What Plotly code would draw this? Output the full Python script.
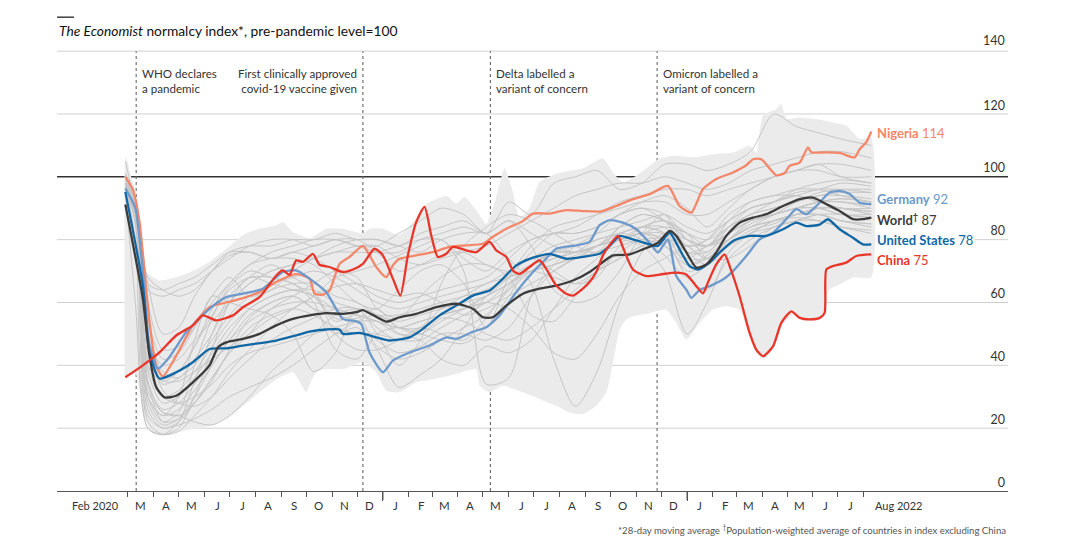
import plotly.graph_objects as go
import pandas as pd

# ---------------- data ----------------
CHINA_D = ["2020-02-27","2020-03-19","2020-04-08","2020-04-28","2020-05-18","2020-05-30","2020-06-15","2020-07-05","2020-07-17","2020-08-06","2020-08-26","2020-09-03","2020-09-11","2020-09-19","2020-09-27","2020-10-09","2020-10-17","2020-10-29","2020-11-14","2020-11-26","2020-12-08","2020-12-22","2021-01-01","2021-01-13","2021-01-22","2021-01-31","2021-02-10","2021-02-20","2021-02-28","2021-03-08","2021-03-18","2021-03-26","2021-04-11","2021-04-23","2021-05-09","2021-05-17","2021-05-29","2021-06-06","2021-06-14","2021-06-26","2021-07-08","2021-07-16","2021-07-28","2021-08-09","2021-08-17","2021-08-29","2021-09-06","2021-09-14","2021-09-22","2021-09-30","2021-10-10","2021-10-16","2021-10-28","2021-11-13","2021-11-29","2021-12-19","2021-12-31","2022-01-12","2022-01-20","2022-01-26","2022-02-05","2022-02-15","2022-02-21","2022-03-05","2022-03-17","2022-03-25","2022-04-02","2022-04-14","2022-04-24","2022-05-06","2022-05-16","2022-05-28","2022-06-09","2022-06-15","2022-06-17","2022-06-25","2022-07-11","2022-07-23","2022-08-10"]
CHINA_V = [36.2,40,44.1,49.5,52.7,55.9,54.3,55.9,58.5,61.7,68.6,70.2,68.8,73.4,72.9,75.5,72,71.3,69.7,70.5,72.3,77.1,75,67.6,62.2,75,85.6,90.4,81.4,74.5,75.5,77.7,76.6,76,79.3,76.6,74.5,70.2,69.1,71.3,73.4,70.7,65.4,62.8,62.2,64.4,66.5,69.7,75,78.3,81.2,77.5,70.5,68.4,68.9,69.5,68.9,65.2,62.9,66.4,72.1,75.3,71.6,62,50.3,45,42.9,46,53.5,57.2,55.1,54.6,55.1,56.7,70.5,71.6,72.7,74.8,75.3]

NIGERIA_D = ["2020-02-27","2020-03-07","2020-03-15","2020-03-27","2020-04-04","2020-04-12","2020-04-28","2020-05-18","2020-06-07","2020-06-27","2020-07-17","2020-08-06","2020-08-26","2020-09-19","2020-10-05","2020-10-11","2020-10-21","2020-10-29","2020-11-10","2020-11-22","2020-12-08","2020-12-16","2020-12-24","2021-01-05","2021-01-13","2021-01-21","2021-02-10","2021-03-02","2021-03-22","2021-04-11","2021-05-01","2021-05-13","2021-05-29","2021-06-18","2021-06-30","2021-07-20","2021-08-09","2021-08-29","2021-09-20","2021-10-08","2021-10-28","2021-11-17","2021-12-09","2021-12-23","2022-01-06","2022-01-20","2022-02-05","2022-02-25","2022-03-13","2022-03-21","2022-03-31","2022-04-18","2022-04-28","2022-05-04","2022-05-16","2022-05-26","2022-05-30","2022-06-17","2022-07-03","2022-07-21","2022-07-27","2022-08-04","2022-08-10"]
NIGERIA_V = [100,96,85.6,53.7,40,36.5,43,52.7,58.5,60,61.4,63.3,66.5,69,67.6,62.8,62.5,63.8,72.3,74.5,78,75,71.3,68.1,71.8,73.9,75,76,77.7,78.2,78.7,80.9,83.5,85.9,88.3,88.3,89.4,89.1,89,90.7,92.9,94.5,97.1,90.7,88.6,96.1,99.3,101.4,103.7,105.6,105.6,100.5,101.2,103.5,104.5,109.4,107.8,107.8,107.6,106.2,108.8,111,114.4]

GERMANY_D = ["2020-02-27","2020-03-10","2020-03-19","2020-03-27","2020-04-06","2020-04-18","2020-05-10","2020-06-07","2020-06-27","2020-07-17","2020-08-10","2020-09-03","2020-09-19","2020-10-05","2020-10-25","2020-11-14","2020-11-30","2020-12-06","2020-12-16","2021-01-01","2021-01-13","2021-02-02","2021-02-26","2021-03-18","2021-03-30","2021-04-19","2021-05-05","2021-05-21","2021-06-10","2021-06-30","2021-07-12","2021-07-28","2021-08-21","2021-09-06","2021-09-18","2021-09-30","2021-10-16","2021-11-01","2021-11-17","2021-11-27","2021-12-09","2021-12-19","2021-12-31","2022-01-06","2022-01-16","2022-01-28","2022-02-13","2022-02-25","2022-03-13","2022-03-29","2022-04-14","2022-04-30","2022-05-12","2022-05-24","2022-06-05","2022-06-21","2022-07-03","2022-07-15","2022-07-27","2022-08-10"]
GERMANY_V = [96.3,90,69.7,46.3,39,42,50.5,58,61.7,62.8,64.4,69.7,70.2,67.6,63.3,54.8,54,53.2,44.1,37.8,41.5,44.1,46.3,48.9,48.4,50.7,52.1,55.9,63.3,69.7,72.9,77.1,78.2,79.3,84.6,86.2,85.4,83.3,79,75.9,80.1,68.4,64.1,61.5,64,65.2,67.3,70,74.8,80.1,82.2,86.5,89.7,88.1,90.7,95,95.5,94.5,91.8,91.3]

US_D = ["2020-02-27","2020-03-19","2020-03-27","2020-04-08","2020-04-28","2020-05-18","2020-06-07","2020-06-27","2020-07-17","2020-08-26","2020-09-19","2020-10-05","2020-10-25","2020-11-10","2020-11-14","2020-12-04","2020-12-24","2021-01-09","2021-02-02","2021-02-18","2021-03-10","2021-03-30","2021-04-19","2021-05-09","2021-05-25","2021-06-10","2021-06-26","2021-07-20","2021-08-09","2021-08-29","2021-09-18","2021-09-30","2021-10-12","2021-10-28","2021-11-17","2021-11-27","2021-12-11","2021-12-23","2022-01-04","2022-01-14","2022-01-28","2022-02-09","2022-02-25","2022-03-17","2022-04-06","2022-04-26","2022-05-12","2022-05-24","2022-06-09","2022-06-19","2022-07-03","2022-07-19","2022-07-31","2022-08-10"]
US_V = [95.2,65.4,44,35.8,37.8,41,45.2,45.4,46.3,47.9,49.5,50.7,51.4,51.4,50,50.3,48.9,47.9,48.9,51.6,55.9,59,62.2,63.8,67.6,71.8,73.9,75.5,73.9,74.5,75.5,78,81.2,80.1,78.5,78,82.2,76.9,71.6,70.5,72.7,75.9,79.6,81.2,81.2,83.3,85.4,84.3,84.8,86.5,83.3,80.6,78.5,78.5]

WORLD_D = ["2020-02-27","2020-03-19","2020-03-27","2020-04-04","2020-04-14","2020-04-28","2020-05-18","2020-06-07","2020-06-17","2020-06-27","2020-07-17","2020-08-06","2020-08-26","2020-09-15","2020-10-05","2020-10-25","2020-11-14","2020-11-30","2020-12-08","2021-01-05","2021-01-21","2021-02-10","2021-03-06","2021-03-30","2021-04-19","2021-05-01","2021-05-13","2021-05-29","2021-06-18","2021-07-08","2021-07-28","2021-08-17","2021-09-06","2021-09-22","2021-10-04","2021-10-24","2021-11-09","2021-11-27","2021-12-11","2021-12-19","2021-12-31","2022-01-12","2022-01-24","2022-02-05","2022-02-17","2022-03-05","2022-03-21","2022-04-06","2022-04-26","2022-05-16","2022-06-01","2022-06-17","2022-07-03","2022-07-19","2022-07-31","2022-08-10"]
WORLD_V = [91.2,61.2,43,33,29.8,30.3,34.6,40,45.7,47.3,48.4,50,52.7,54.8,55.9,56.6,56.4,56.9,57.6,53.9,55.3,56.4,58.5,59.6,58,55.3,55.3,59,62.8,64.4,65.4,67,69.7,72.9,75,75.3,76.9,79,82.8,81.2,76,71.1,72.1,75.9,81.2,85.4,87,88.1,90.7,92.9,93.4,91.3,89.1,86.5,86.5,87]

BAND_UP_D = ["2020-02-26","2020-02-28","2020-03-04","2020-03-10","2020-03-17","2020-03-22","2020-04-08","2020-04-28","2020-05-18","2020-06-07","2020-06-27","2020-07-17","2020-08-06","2020-08-26","2020-09-03","2020-09-15","2020-10-05","2020-10-25","2020-11-14","2020-12-08","2020-12-16","2021-01-01","2021-01-21","2021-02-10","2021-02-20","2021-03-18","2021-03-30","2021-04-09","2021-04-23","2021-05-05","2021-05-17","2021-05-27","2021-06-06","2021-06-14","2021-06-26","2021-07-08","2021-07-28","2021-08-29","2021-09-22","2021-10-04","2021-10-16","2021-11-01","2021-11-17","2021-11-27","2021-12-15","2022-01-08","2022-02-01","2022-02-25","2022-03-17","2022-03-25","2022-04-02","2022-04-18","2022-04-24","2022-04-30","2022-05-16","2022-06-05","2022-06-25","2022-07-11","2022-07-27","2022-08-10"]
BAND_UP_V = [100,106.4,101,95,80,70,67,68,70,73,77,81.4,83.5,84.6,85.6,82.4,80.5,83.5,83.5,82,83.5,83.5,81.5,86.7,91,94,91.5,93.6,89.4,85,93.6,102.7,95.2,87,90,98.4,101,102.7,105.9,101.4,98.2,100.3,103.5,105.6,106.7,106.2,107.2,107.7,109.9,107.7,119.5,121.6,123.2,118.4,118.9,118.4,117.3,116.3,112,112.5]

BAND_LO_D = ["2020-02-26","2020-03-01","2020-03-10","2020-03-20","2020-03-30","2020-04-12","2020-04-28","2020-05-18","2020-06-07","2020-06-27","2020-07-17","2020-08-06","2020-08-26","2020-09-15","2020-09-25","2020-10-01","2020-10-07","2020-10-13","2020-10-25","2020-11-14","2020-12-08","2020-12-24","2021-01-05","2021-01-21","2021-02-10","2021-03-02","2021-03-22","2021-04-11","2021-04-23","2021-04-27","2021-05-09","2021-05-25","2021-06-18","2021-07-08","2021-07-28","2021-08-13","2021-08-29","2021-09-14","2021-09-26","2021-10-04","2021-10-12","2021-10-20","2021-10-28","2021-11-17","2021-12-07","2021-12-19","2021-12-31","2022-01-16","2022-02-01","2022-02-17","2022-03-05","2022-03-17","2022-03-25","2022-04-02","2022-04-14","2022-04-26","2022-05-08","2022-05-24","2022-06-09","2022-06-15","2022-06-20","2022-07-05","2022-07-20","2022-08-10"]
BAND_LO_V = [36,36.5,37.5,25,18.6,17.6,18.6,19.7,20.7,22.9,27,31.4,35.6,37.8,34,31.4,35,37.8,38.8,38.8,41,37.8,31.9,31.4,34.6,35.6,36.7,38.3,38.8,33.5,31.4,33.5,31.4,29.3,27.1,25,24.5,27.1,31.4,40.7,51.4,54.6,55.6,56.6,57.7,53.5,48.2,53.5,57.7,58.8,57.7,49.3,43.9,42,45,53,56,54,54.5,55.5,64,66,68,68]

# other countries (thin grey lines), sampled on a common set of dates
GREY_D = ["2020-02-27","2020-03-10","2020-03-25","2020-04-12","2020-05-01","2020-05-20","2020-06-10","2020-07-01","2020-07-25","2020-08-20","2020-09-15","2020-10-10","2020-11-05","2020-12-01","2020-12-25",
          "2021-01-20","2021-02-15","2021-03-12","2021-04-08","2021-05-05","2021-06-01","2021-06-28","2021-07-25","2021-08-20","2021-09-15","2021-10-12","2021-11-08","2021-12-05",
          "2022-01-01","2022-01-25","2022-02-20","2022-03-18","2022-04-15","2022-05-12","2022-06-08","2022-07-05","2022-08-10"]
GREY_1 = [98,85,30,22,25,40,55,65,70,68,66,60,45,42,50, 52,50,48,47,52,62,72,75,74,78,82,80,75, 68,72,80,85,88,90,92,93,92]
GREY_2 = [95,60,20,18,22,35,50,62,68,72,68,64,50,45,45, 48,52,50,48,55,65,72,76,76,78,80,82,80, 70,72,78,83,85,88,90,90,89]
GREY_3 = [97,90,35,25,24,28,35,45,55,60,62,58,50,52,45, 33,37,42,52,62,68,70,72,75,78,80,82,78, 72,75,80,84,86,87,86,84,83]
GREY_4 = [100,92,68,64,62,64,70,75,76,74,76,78,80,80,76, 70,72,75,76,72,70,74,70,66,68,78,84,86, 82,74,74,78,84,86,88,86,84]
GREY_5 = [100,93,22,18,19,24,30,38,45,52,58,62,68,70,72, 75,78,80,70,34,36,62,72,78,82,88,92,94, 90,84,90,96,100,102,104,100,98]
GREY_6 = [99,93,42,35,35,38,42,46,50,55,58,62,65,66,64, 62,63,60,56,58,62,66,70,74,78,80,82,84, 82,78,82,86,88,90,92,92,90]
GREY_7 = [96,88,24,20,21,23,26,30,33,36,40,45,50,54,56, 52,50,55,54,50,48,52,58,64,70,74,78,80, 76,72,78,82,86,88,88,86,85]
GREY_8 = [105,90,64,62,64,66,70,74,78,80,80,78,80,78,76, 76,80,82,84,82,86,82,78,76,78,84,88,86, 82,80,84,88,92,96,98,99,98]
GREY_9 = [98,80,20,18,20,30,45,60,68,66,64,62,55,55,58, 52,52,56,58,62,68,76,82,82,84,88,90,88, 78,80,86,90,92,95,96,98,97]
GREY_10 = [97,90,30,24,26,32,40,48,56,60,62,58,56,54,48, 44,46,50,50,48,52,62,70,74,76,78,80,80, 68,64,74,80,84,86,88,88,87]
GREY_11 = [100,93,45,30,28,30,34,40,44,46,48,50,52,54,54, 52,54,56,58,60,58,52,44,42,50,62,70,74, 78,78,80,84,88,92,95,96,96]
GREY_12 = [98,92,35,22,23,28,36,44,50,58,62,66,70,68,58, 55,62,68,72,72,68,56,54,62,70,76,80,78, 74,78,82,86,88,90,92,93,92]
GREY_13 = [100,93,55,42,44,52,62,68,62,64,70,74,78,80,80, 78,82,84,86,82,86,78,64,60,62,70,82,88, 80,76,84,90,92,94,92,90,90]
GREY_14 = [101,93,50,38,36,42,50,60,66,70,72,74,76,78,78, 74,72,74,76,78,82,86,90,94,96,98,98,100, 98,96,98,102,104,106,108,108,106]
GREY_15 = [99,93,50,32,28,27,30,36,42,48,52,55,58,58,52, 48,52,58,62,66,68,70,68,66,70,74,78,80, 78,74,78,82,84,86,86,84,82]
GREY_16 = [96,86,40,35,38,46,56,64,68,68,66,62,54,56,46, 42,44,48,52,56,64,72,76,76,78,80,78,70, 50,60,76,82,86,88,90,90,88]
GREY_17 = [100,92,66,50,52,62,70,76,78,78,80,80,82,80,80, 78,76,80,82,82,74,66,42,27,38,60,76,82, 80,78,84,88,90,92,94,95,95]
GREY_18 = [99,92,48,36,38,46,58,66,72,74,74,72,66,60,58, 64,70,72,66,52,68,78,84,86,88,90,92,92, 88,88,92,96,100,102,104,104,102]
GREY_19 = [98,90,32,25,24,22,21,24,30,38,44,50,56,58,56, 50,48,42,40,46,44,48,58,68,74,80,82,82, 78,74,80,86,88,90,90,88,88]
GREY_20 = [99,93,66,64,66,68,72,76,76,74,76,74,70,66,62, 60,62,64,66,68,74,80,82,82,84,88,90,86, 78,80,88,92,94,94,92,90,89]
GREY_21 = [100,93,48,40,42,48,54,60,66,70,72,74,76,76,76, 78,80,80,74,70,76,80,82,84,88,92,94,96, 96,94,96,98,100,102,102,100,100]
GREY_22 = [98,88,30,24,30,48,62,60,58,56,50,38,44,58,50, 40,48,66,78,84,88,86,82,78,76,84,88,86, 80,78,86,92,94,96,96,94,92]
GREY_23 = [100,93,60,45,46,52,60,66,72,76,78,80,80,78,78, 82,86,90,88,82,92,88,98,100,102,96,98,104, 104,102,104,108,120,116,114,112,110]
GREY_24 = [97,88,34,26,28,34,42,50,58,62,64,62,58,56,54, 52,54,56,58,60,64,70,74,76,78,80,82,80, 74,74,80,84,86,88,90,90,88]
GREY_25 = [99,90,38,28,30,36,44,52,58,62,64,64,60,58,56, 56,58,60,62,64,68,72,74,76,80,82,84,82, 76,76,82,86,88,90,92,92,91]
GREY_26 = [96,86,28,21,23,30,40,48,54,58,60,60,58,56,54, 50,50,54,58,62,66,72,76,78,80,82,84,84, 76,78,84,88,90,92,94,94,93]
GREY_27 = [100,91,40,30,32,38,46,54,60,64,66,66,62,60,56, 54,56,58,60,62,66,70,72,74,76,80,84,86, 80,78,82,86,88,90,90,88,87]
GREY_28 = [98,89,26,20,22,28,36,44,52,56,58,56,52,50,50, 48,48,52,56,60,66,72,76,76,78,82,84,82, 72,74,80,84,86,88,88,86,85]
GREY_29 = [101,92,44,34,36,40,48,56,62,66,68,70,68,64,60, 58,60,62,64,66,70,74,78,80,82,84,86,88, 84,82,86,90,92,94,96,96,95]
GREY_LINES = [GREY_1, GREY_2, GREY_3, GREY_4, GREY_5, GREY_6, GREY_7, GREY_8, GREY_9, GREY_10, GREY_11, GREY_12,
              GREY_13, GREY_14, GREY_15, GREY_16, GREY_17, GREY_18, GREY_19, GREY_20, GREY_21, GREY_22, GREY_23,
              GREY_24, GREY_25, GREY_26, GREY_27, GREY_28, GREY_29]

EVENT_D = ["2020-03-11", "2020-12-08", "2021-05-10", "2021-11-26"]
EVENT_T = ["WHO declares<br>a pandemic", "First clinically approved<br>covid-19 vaccine given",
           "Delta labelled a<br>variant of concern", "Omicron labelled a<br>variant of concern"]

Y_TICKS = [0, 20, 40, 60, 80, 100, 120, 140]
MONTH_TICKS = pd.date_range("2020-03-01", "2022-08-01", freq="MS")
MONTH_LETTERS = "JFMAMJJASOND"

SERIES = [  # name, last value, dates, values, colour, label y
    ("Nigeria", 114, NIGERIA_D, NIGERIA_V, "#F4866A", 113.9),
    ("Germany", 92, GERMANY_D, GERMANY_V, "#6E9ACB", 92.9),
    ("United States", 78, US_D, US_V, "#1167A4", 79.9),
    ("World<sup>†</sup>", 87, WORLD_D, WORLD_V, "#3C3C3C", 86.3),
    ("China", 75, CHINA_D, CHINA_V, "#E8362A", 73.5),
]

FONT = "Lato"
TXT = "#333333"
GRID = "#D0D0D0"
Y_TOP = 141          # a little headroom so the 140 gridline is not on the edge
PW = 951             # plot width, px
PH = 440 * Y_TOP / 140  # plot height, px (0..140 spans 440 px)

fig = go.Figure()

# range band
fig.add_trace(go.Scatter(
    x=BAND_UP_D + BAND_LO_D[::-1], y=BAND_UP_V + BAND_LO_V[::-1],
    fill="toself", fillcolor="#EBEBEB", line=dict(width=0, shape="spline", smoothing=0.5),
    mode="lines", hoverinfo="skip", showlegend=False))

for g in GREY_LINES:
    fig.add_trace(go.Scatter(x=GREY_D, y=g, mode="lines",
                             line=dict(color="#C6C6C6", width=1, shape="spline", smoothing=0.8),
                             hoverinfo="skip", showlegend=False))

for name, last, d, v, col, ly in SERIES:
    fig.add_trace(go.Scatter(x=d, y=v, mode="lines", name=name,
                             line=dict(color=col, width=2.3, shape="spline", smoothing=0.6),
                             showlegend=False))

shapes = []
# horizontal gridlines (drawn as shapes so that the 100 line can be dark); all under the data
for t in Y_TICKS[1:]:
    dark = (t == 100)
    shapes.append(dict(type="line", xref="paper", x0=0, x1=1, yref="y", y0=t, y1=t,
                       line=dict(color="#333333" if dark else GRID, width=1.4 if dark else 1), layer="below"))
for d in EVENT_D:
    shapes.append(dict(type="line", xref="x", x0=d, x1=d, yref="y", y0=0, y1=140,
                       line=dict(color="#666666", width=1.1, dash="3px,3px"), layer="below"))
for d in ["2021-01-01", "2022-01-01"]:
    shapes.append(dict(type="line", xref="x", x0=d, x1=d, yref="paper", y0=0, y1=-9 / PH,
                       line=dict(color="#555555", width=1.2)))
shapes.append(dict(type="line", xref="paper", x0=0, x1=17 / PW, yref="paper", y0=474 / PH, y1=474 / PH,
                   line=dict(color="#111111", width=1.2)))

ann = []
ann.append(dict(xref="paper", yref="paper", x=0, y=461 / PH, xanchor="left", yanchor="middle",
                text="<i>The Economist</i> normalcy index*, pre-pandemic level=100", showarrow=False,
                font=dict(family=FONT, size=13.8, color="#111111")))
# label for the top gridline (inside labels near the range edge are hidden by plotly)
ann.append(dict(xref="paper", yref="y", x=1, y=Y_TICKS[-1], xanchor="right", yanchor="bottom",
                xshift=-1, yshift=1, text=str(Y_TICKS[-1]), showarrow=False,
                font=dict(family=FONT, size=12.5, color=TXT)))
for i, (d, t) in enumerate(zip(EVENT_D, EVENT_T)):
    right = (i == 1)
    ann.append(dict(xref="x", yref="y", x=d, y=135.5, xanchor="right" if right else "left", yanchor="top",
                    xshift=-4 if right else 4, align="right" if right else "left", text=t, showarrow=False,
                    font=dict(family=FONT, size=11.6, color=TXT)))
for m in MONTH_TICKS[:-1]:
    mid = m + pd.Timedelta(days=15)
    ann.append(dict(xref="x", yref="paper", x=mid.strftime("%Y-%m-%d"), y=0, yanchor="top", yshift=-6,
                    text=MONTH_LETTERS[m.month - 1], showarrow=False,
                    font=dict(family=FONT, size=11.5, color=TXT)))
ann.append(dict(xref="x", yref="paper", x="2020-02-22", y=0, yanchor="top", yshift=-6, xanchor="right",
                text="Feb 2020", showarrow=False, font=dict(family=FONT, size=11, color=TXT)))
ann.append(dict(xref="x", yref="paper", x="2022-08-12", y=0, yanchor="top", yshift=-6, xanchor="left",
                text="Aug 2022", showarrow=False, font=dict(family=FONT, size=11, color=TXT)))
for name, last, d, v, col, ly in SERIES:
    ann.append(dict(xref="x", yref="y", x=d[-1], y=ly, xanchor="left", yanchor="middle", xshift=4,
                    text=f"<b>{name}</b> {last}", showarrow=False, bgcolor="white", borderpad=1,
                    font=dict(family=FONT, size=13, color=col)))
ann.append(dict(xref="paper", yref="paper", x=1, y=-39 / PH, xanchor="right", yanchor="middle",
                text="*28-day moving average <sup>†</sup>Population-weighted average of countries in index excluding China",
                showarrow=False, font=dict(family=FONT, size=9.6, color="#555555")))

# the page body has an 8px margin, so the figure is sized to fit the window with it
FIG_W, FIG_H, M_B = 1072, 551, 68
fig.update_layout(
    width=FIG_W, height=FIG_H,
    margin=dict(l=49, r=72, t=FIG_H - M_B - PH, b=M_B),
    plot_bgcolor="white", paper_bgcolor="white",
    shapes=shapes, annotations=ann,
    font=dict(family=FONT, color=TXT),
    xaxis=dict(range=["2019-12-07", "2023-01-21"], type="date",
               tickmode="array", tickvals=["2021-01-01", "2022-01-01"], ticks="outside", ticklen=9,
               tickcolor="#555555", tickwidth=1.2, showticklabels=False,
               minor=dict(tickmode="array",
                          tickvals=[m.strftime("%Y-%m-%d") for m in MONTH_TICKS if m.month != 1],
                          ticks="outside", ticklen=5, tickcolor="#555555", tickwidth=1),
               showgrid=False, zeroline=False, showline=True, linecolor="#555555", linewidth=1.4),
    yaxis=dict(range=[0, Y_TOP], tickvals=Y_TICKS, side="right", ticklabelposition="inside top",
               showgrid=False, zeroline=False, showline=False,
               ticks="", tickfont=dict(family=FONT, size=12.5, color=TXT)),
)

fig.write_html("out.html")
